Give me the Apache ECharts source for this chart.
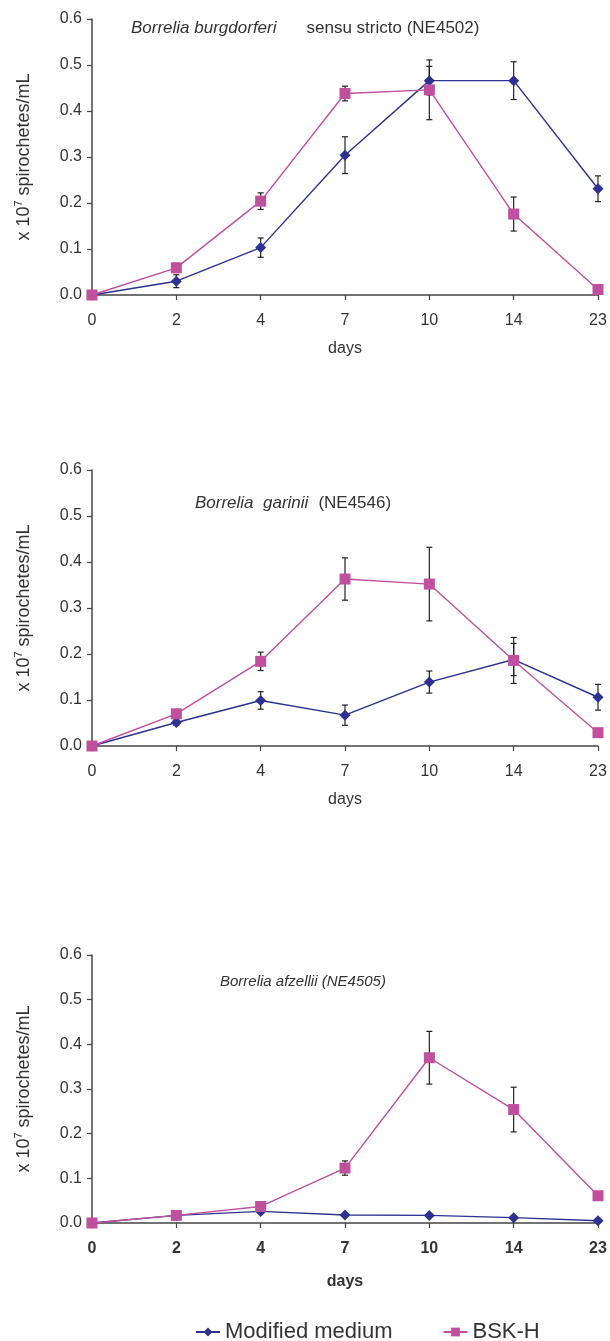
<!DOCTYPE html>
<html>
<head>
<meta charset="utf-8">
<script src="https://cdn.jsdelivr.net/npm/echarts@6/dist/echarts.min.js"></script>
<style>
html,body{margin:0;padding:0;background:#fff;}
#main{width:610px;height:1341px;}
</style>
</head>
<body>
<div id="main"></div>
<script>
var days = ['0','2','4','7','10','14','23'];
var yTicks = [0.0,0.1,0.2,0.3,0.4,0.5,0.6];

// Chart 1: Borrelia burgdorferi sensu stricto (NE4502)
var bb_mod     = [0.000, 0.030, 0.103, 0.304, 0.466, 0.466, 0.231];
var bb_mod_err = [0.000, 0.014, 0.021, 0.040, 0.031, 0.041, 0.028];
var bb_bsk     = [0.000, 0.059, 0.204, 0.438, 0.446, 0.176, 0.012];
var bb_bsk_err = [0.000, 0.010, 0.018, 0.016, 0.065, 0.037, 0.008];

// Chart 2: Borrelia garinii (NE4546)
var bg_mod     = [0.000, 0.051, 0.099, 0.067, 0.139, 0.188, 0.106];
var bg_mod_err = [0.000, 0.006, 0.019, 0.022, 0.024, 0.035, 0.028];
var bg_bsk     = [0.000, 0.070, 0.184, 0.363, 0.352, 0.186, 0.029];
var bg_bsk_err = [0.000, 0.008, 0.020, 0.046, 0.080, 0.050, 0.004];

// Chart 3: Borrelia afzellii (NE4505)
var ba_mod     = [0.000, 0.017, 0.026, 0.018, 0.017, 0.012, 0.005];
var ba_mod_err = [0.000, 0.004, 0.003, 0.003, 0.003, 0.003, 0.003];
var ba_bsk     = [0.000, 0.017, 0.037, 0.123, 0.370, 0.254, 0.061];
var ba_bsk_err = [0.000, 0.005, 0.006, 0.016, 0.059, 0.050, 0.008];

var BLUE = '#2e3192';
var PINK = '#c0509e';
var AXIS = '#444';
var FONT = 'Liberation Sans, Arial, sans-serif';

var grids = [
  {left: 92, right: 12, top: 19, height: 276},
  {left: 92, right: 12, top: 470, height: 276},
  {left: 92, right: 12, top: 955, height: 268}
];

var titles = [
  {text: '{i|Borrelia burgdorferi}      {n|sensu stricto (NE4502)}', left: 126, top: 14, size: 17},
  {text: '{i|Borrelia  garinii}  {n|(NE4546)}', left: 190, top: 489, size: 17},
  {text: '{i|Borrelia afzellii (NE4505)}', left: 215, top: 969, size: 15}
];

function xAxisFor(i, bold) {
  return {
    type: 'category', gridIndex: i, data: days, boundaryGap: false,
    axisLine: {lineStyle: {color: AXIS, width: 1.5}},
    axisTick: {show: true, length: 5, lineStyle: {color: AXIS, width: 1.2}},
    axisLabel: {color: '#333', fontSize: 16, fontFamily: FONT, margin: 18, fontWeight: bold ? 'bold' : 'normal'},
    name: 'days', nameLocation: 'middle', nameGap: bold ? 51 : 46,
    nameTextStyle: {color: '#333', fontSize: 16, fontFamily: FONT, fontWeight: bold ? 'bold' : 'normal'}
  };
}
function yAxisFor(i) {
  return {
    type: 'value', gridIndex: i, min: 0, max: 0.6, interval: 0.1,
    axisLine: {show: true, lineStyle: {color: AXIS, width: 1.5}},
    axisTick: {show: true, length: 5, lineStyle: {color: AXIS, width: 1.2}},
    splitLine: {show: false},
    axisLabel: {color: '#333', fontSize: 16, fontFamily: FONT, margin: 10,
      formatter: function (v) { return v.toFixed(1); }},
    name: '{a|x 10}{s|7}{a| spirochetes/mL}', nameLocation: 'middle', nameGap: 57,
    nameTextStyle: {color: '#333', fontFamily: FONT,
      rich: {a: {fontSize: 18, fontFamily: FONT, color: '#333', lineHeight: 22},
             s: {fontSize: 11, fontFamily: FONT, color: '#333', verticalAlign: 'top', lineHeight: 22}}}
  };
}

function lineSeries(i, name, data, color, symbol, size) {
  return {
    type: 'line', name: name, xAxisIndex: i, yAxisIndex: i, data: data,
    symbol: symbol, symbolSize: size, showSymbol: true,
    lineStyle: {color: color, width: 1.4}, itemStyle: {color: color},
    z: symbol === 'rect' ? 4 : 3, animation: false
  };
}
function errSeries(i, vals, errs) {
  var d = vals.map(function (v, k) { return [k, v - errs[k], v + errs[k]]; });
  return {
    type: 'custom', xAxisIndex: i, yAxisIndex: i, data: d, z: 2, animation: false,
    silent: true,
    renderItem: function (params, api) {
      var lo = api.coord([api.value(0), api.value(1)]);
      var hi = api.coord([api.value(0), api.value(2)]);
      var w = 3;
      var st = {stroke: '#222', lineWidth: 1.2};
      return {type: 'group', children: [
        {type: 'line', shape: {x1: lo[0], y1: lo[1], x2: hi[0], y2: hi[1]}, style: st},
        {type: 'line', shape: {x1: lo[0]-w, y1: lo[1], x2: lo[0]+w, y2: lo[1]}, style: st},
        {type: 'line', shape: {x1: hi[0]-w, y1: hi[1], x2: hi[0]+w, y2: hi[1]}, style: st}
      ]};
    }
  };
}

var sets = [[bb_mod, bb_mod_err, bb_bsk, bb_bsk_err],
            [bg_mod, bg_mod_err, bg_bsk, bg_bsk_err],
            [ba_mod, ba_mod_err, ba_bsk, ba_bsk_err]];
var series = [];
sets.forEach(function (s, i) {
  series.push(errSeries(i, s[0], s[1]));
  series.push(errSeries(i, s[2], s[3]));
  series.push(lineSeries(i, 'Modified medium', s[0], BLUE, 'diamond', 11));
  series.push(lineSeries(i, 'BSK-H', s[2], PINK, 'rect', 11));
});

var chart = echarts.init(document.getElementById('main'), null, {renderer: 'canvas'});
chart.setOption({
  backgroundColor: '#fff',
  animation: false,
  textStyle: {fontFamily: FONT},
  title: titles.map(function (t) {
    return {text: t.text, left: t.left, top: t.top,
      textStyle: {fontWeight: 'normal', rich: {
        i: {fontStyle: 'italic', fontWeight: 'normal', fontSize: t.size, fontFamily: FONT, color: '#333'},
        n: {fontWeight: 'normal', fontSize: t.size, fontFamily: FONT, color: '#333'}}}};
  }),
  grid: grids,
  xAxis: [xAxisFor(0, false), xAxisFor(1, false), xAxisFor(2, true)],
  yAxis: [yAxisFor(0), yAxisFor(1), yAxisFor(2)],
  legend: {
    data: ['Modified medium', 'BSK-H'], top: 1316, left: 190,
    itemWidth: 24, itemHeight: 11, itemGap: 50,
    textStyle: {fontSize: 22, fontFamily: FONT, color: '#333'}
  },
  series: series
});
</script>
</body>
</html>
